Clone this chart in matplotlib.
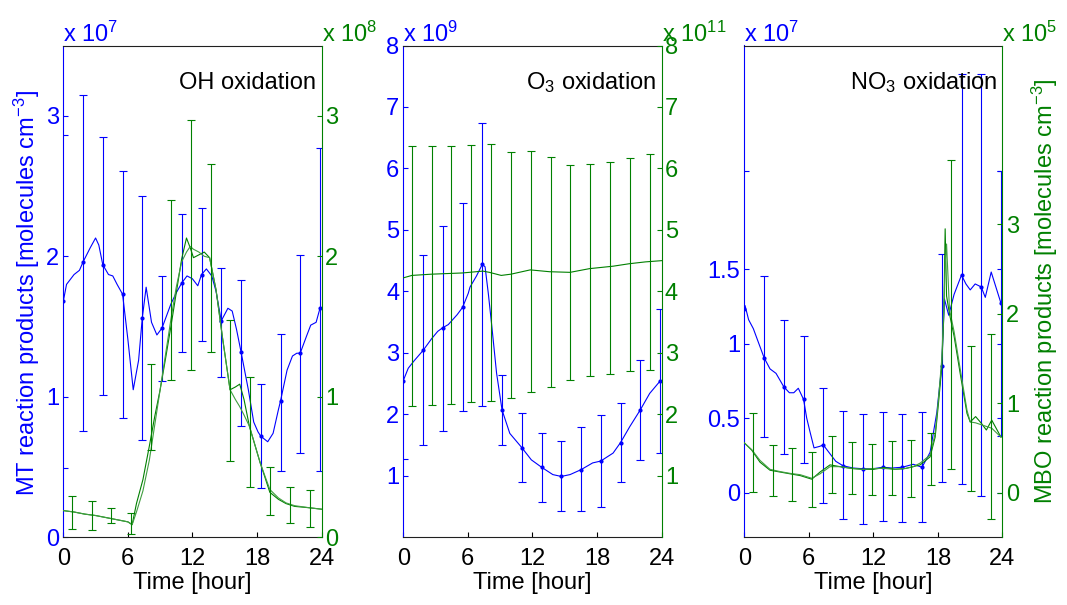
import numpy as np
import matplotlib
matplotlib.use('Agg')
import matplotlib.pyplot as plt

plt.rcParams['font.family'] = ['Liberation Sans', 'DejaVu Sans']
plt.rcParams['mathtext.default'] = 'regular'
plt.rcParams['font.size'] = 17

blue = (0, 0, 1)
green = (0, 0.5, 0)

# hours of the averaged MT points and of the MBO error bars
mark_hours = [0, 1.84, 3.67, 5.51, 7.34, 9.18, 11.01, 12.85, 14.68, 16.52, 18.35, 20.19, 22.02, 23.86]
bar_hours = [0.78, 2.63, 4.47, 6.32, 8.16, 10.0, 11.85, 13.7, 15.54, 17.39, 19.23, 21.08, 22.92]

# ---------------- OH oxidation (MT x1e7, MBO x1e8)
oh_mt_t = [0, 0.3, 0.5, 1, 1.5, 1.84, 2.5, 3, 3.3, 3.67, 4.2, 4.6, 5, 5.51, 6, 6.5, 7, 7.34, 7.7,
           8.2, 8.7, 9.18, 10, 10.5, 11.01, 11.5, 12, 12.5, 12.85, 13.3, 13.8, 14.2, 14.68, 15.3,
           15.7, 16.1, 16.52, 17.2, 17.7, 18.1, 18.35, 19, 19.5, 20, 20.19, 20.8, 21.3, 21.7,
           22.02, 22.6, 23, 23.5, 23.86]
oh_mt = [1.68, 1.80, 1.82, 1.87, 1.90, 1.96, 2.06, 2.13, 2.08, 1.94, 1.87, 1.86, 1.80, 1.73, 1.41,
         1.05, 1.26, 1.56, 1.78, 1.53, 1.44, 1.49, 1.66, 1.74, 1.81, 1.86, 1.84, 1.79, 1.87, 1.91,
         1.86, 1.75, 1.54, 1.63, 1.61, 1.48, 1.32, 1.05, 0.82, 0.75, 0.72, 0.68, 0.74, 0.91, 0.97,
         1.19, 1.29, 1.31, 1.31, 1.43, 1.51, 1.53, 1.63]
oh_mt_marks = [1.68, 1.96, 1.94, 1.73, 1.56, 1.49, 1.81, 1.87, 1.54, 1.32, 0.72, 0.97, 1.31, 1.63]
oh_mt_lo = [None, 0.76, 1.01, 0.85, 0.69, 1.11, 1.32, 1.40, 1.14, 0.79, 0.35, 0.47, 0.60, 0.47]
oh_mt_hi = [None, 3.15, 2.85, 2.61, 2.43, 1.86, 2.30, 2.34, 1.92, 1.83, 1.09, 1.45, 2.01, 2.77]
oh_mbo_t = [0, 1, 2, 3, 4, 5, 6, 6.4, 6.8, 7.4, 8, 8.5, 9, 9.5, 10, 10.5, 11, 11.45, 11.8, 12.1,
            12.6, 13.1, 13.6, 14.2, 14.8, 15.5, 16, 16.4, 16.8, 17.3, 18.3, 19.2, 20, 20.7, 21.5,
            22.9, 24]
oh_mbo_a = [0.19, 0.18, 0.165, 0.155, 0.14, 0.125, 0.11, 0.09, 0.24, 0.41, 0.65, 0.86, 1.05, 1.27,
            1.50, 1.74, 1.98, 2.13, 2.06, 1.99, 2.01, 2.03, 1.99, 1.76, 1.42, 1.05, 1.07, 1.09,
            0.98, 0.79, 0.53, 0.32, 0.27, 0.24, 0.22, 0.21, 0.20]
oh_mbo_b = [0.19, 0.18, 0.165, 0.155, 0.14, 0.125, 0.11, 0.09, 0.18, 0.33, 0.55, 0.80, 1.05, 1.30,
            1.55, 1.78, 1.96, 2.03, 2.07, 2.05, 2.03, 2.00, 1.99, 1.76, 1.42, 1.05, 0.98, 0.93,
            0.87, 0.79, 0.53, 0.34, 0.28, 0.245, 0.225, 0.21, 0.20]
oh_mbo_lo = [0.06, 0.055, 0.105, 0.02, 0.62, 1.12, 1.19, 1.32, 0.54, 0.36, 0.16, 0.105, 0.07]
oh_mbo_hi = [0.295, 0.26, 0.21, 0.17, 1.23, 2.40, 2.97, 2.66, 1.55, 1.14, 0.50, 0.36, 0.34]

# ---------------- O3 oxidation (MT x1e9, MBO x1e11)
o3_mt_t = [0, 0.46, 1.0, 1.84, 2.63, 3.2, 3.67, 4.18, 5.0, 5.51, 6.04, 6.2, 6.8, 7.34, 7.6, 7.9,
           8.2, 8.67, 9.18, 9.9, 11.01, 11.9, 12.85, 13.9, 14.68, 15.5, 16.52, 17.6, 18.35, 19.5,
           20.19, 21.05, 22.02, 22.9, 23.86]
o3_mt = [2.55, 2.75, 2.87, 3.04, 3.23, 3.35, 3.41, 3.46, 3.62, 3.74, 3.97, 4.07, 4.25, 4.44, 4.40,
         3.97, 3.48, 2.67, 2.07, 1.69, 1.46, 1.26, 1.14, 1.02, 0.99, 1.02, 1.10, 1.21, 1.24, 1.37,
         1.54, 1.80, 2.07, 2.34, 2.54]
o3_mt_marks = [2.55, 3.04, 3.41, 3.74, 4.44, 2.07, 1.46, 1.14, 0.99, 1.10, 1.24, 1.54, 2.07, 2.54]
o3_mt_lo = [None, 1.50, 1.73, 2.06, 2.13, 1.50, 0.90, 0.57, 0.42, 0.42, 0.50, 0.90, 1.25, 1.37]
o3_mt_hi = [None, 4.60, 5.07, 5.43, 6.74, 2.64, 2.02, 1.69, 1.57, 1.79, 1.99, 2.19, 2.88, 3.71]
o3_mbo_t = [0, 0.8, 2.6, 5.5, 7.4, 8.0, 9.1, 10.0, 11.8, 13.6, 15.5, 17.3, 19.5, 21.0, 22.5, 24]
o3_mbo = [4.22, 4.26, 4.28, 4.30, 4.33, 4.31, 4.26, 4.28, 4.35, 4.32, 4.31, 4.37, 4.41, 4.45,
          4.48, 4.50]
o3_mbo_lo = [2.13, 2.16, 2.17, 2.20, 2.22, 2.27, 2.37, 2.44, 2.56, 2.63, 2.66, 2.70, 2.72]
o3_mbo_hi = [6.36, 6.36, 6.36, 6.38, 6.39, 6.27, 6.28, 6.19, 6.06, 6.07, 6.10, 6.17, 6.23]

# ---------------- NO3 oxidation (MT x1e7, MBO x1e5)
no3_mt_t = [0, 0.07, 0.4, 0.84, 1.3, 1.84, 2.39, 2.95, 3.67, 4.19, 4.6, 5.02, 5.51, 5.8, 6.1,
            6.48, 7.0, 7.34, 7.97, 8.5, 9.18, 10.1, 11.01, 12.0, 12.85, 13.7, 14.68, 15.7, 16.52,
            17.27, 17.9, 18.35, 18.6, 19.0, 19.5, 20.19, 20.6, 21.0, 21.46, 22.02, 22.4, 22.95,
            23.86]
no3_mt = [1.23, 1.255, 1.16, 1.10, 1.01, 0.905, 0.83, 0.80, 0.71, 0.67, 0.67, 0.70, 0.625, 0.50,
          0.41, 0.30, 0.31, 0.32, 0.26, 0.21, 0.18, 0.165, 0.16, 0.16, 0.17, 0.165, 0.17, 0.19,
          0.17, 0.27, 0.54, 0.85, 1.30, 1.19, 1.33, 1.46, 1.40, 1.36, 1.40, 1.38, 1.31, 1.48, 1.27]
no3_mt_marks = [1.23, 0.905, 0.71, 0.625, 0.32, 0.18, 0.16, 0.17, 0.17, 0.17, 0.85, 1.46, 1.38, 1.27]
no3_mt_lo = [None, 0.37, 0.26, 0.20, -0.07, -0.18, -0.21, -0.19, -0.20, -0.20, 0.07, 0.06, -0.02, 0.38]
no3_mt_hi = [None, 1.45, 1.155, 1.05, 0.70, 0.55, 0.53, 0.54, 0.53, 0.54, 1.60, 2.81, 2.81, 2.16]
no3_mbo_t = [0, 0.69, 1.46, 2.39, 3.32, 4.25, 5.2, 6.27, 7.04, 7.97, 8.9, 10, 11, 12, 13, 14, 15,
             15.7, 16.35, 17.27, 17.74, 18.05, 18.36, 18.55, 18.67, 18.8, 19.07, 19.5, 20.07,
             20.7, 21.0, 21.5, 22.0, 22.5, 23.0, 23.86]
no3_mbo_a = [0.556, 0.475, 0.34, 0.25, 0.23, 0.21, 0.19, 0.15, 0.23, 0.31, 0.29, 0.27, 0.26, 0.26,
             0.28, 0.26, 0.27, 0.29, 0.31, 0.40, 0.62, 1.00, 1.41, 2.0, 2.95, 2.2, 2.0, 1.75,
             1.33, 0.885, 0.79, 0.85, 0.78, 0.70, 0.81, 0.62]
no3_mbo_b = [0.556, 0.48, 0.36, 0.26, 0.235, 0.215, 0.20, 0.16, 0.21, 0.29, 0.29, 0.27, 0.26,
             0.27, 0.27, 0.26, 0.27, 0.29, 0.33, 0.42, 0.66, 1.05, 1.50, 2.1, 2.55, 2.78, 2.05,
             1.80, 1.38, 0.92, 0.79, 0.78, 0.76, 0.74, 0.72, 0.62]
no3_mbo_lo = [0.01, -0.035, -0.09, -0.16, 0.0, -0.02, -0.03, -0.03, -0.05, 0.08, 0.26, 0.017, -0.29]
no3_mbo_hi = [0.885, 0.53, 0.50, 0.45, 0.635, 0.57, 0.54, 0.58, 0.59, 0.67, 3.72, 1.64, 1.77]

W, H = 1067.0, 605.0
fig = plt.figure(figsize=(W / 100, H / 100), dpi=100)


def panel(left_px, title, exps, mt_lim, mt_ticks, mt_minor, mbo_lim, mbo_ticks,
          mt_t, mt, marks, lo, hi, mbo_t, mbo_lines, blo, bhi, mirror=False):
	ax = fig.add_axes([left_px / W, 1 - 537.3 / H, 258.2 / W, (537.3 - 45.5) / H])
	ax2 = ax.twinx()

	# MT (left, blue)
	ax.plot(mt_t, mt, color=blue, lw=0.8)
	ax.plot(mark_hours, marks, '.', color=blue, ms=4)
	xs, ys, ye = [], [], [[], []]
	for h, m, l, u in zip(mark_hours, marks, lo, hi):
		if l is None:
			continue
		xs.append(h); ys.append(m)
		ye[0].append(max(m - l, 0)); ye[1].append(max(u - m, 0))
	ax.errorbar(xs, ys, yerr=ye, fmt='none', ecolor=blue, elinewidth=0.8, capsize=3, capthick=0.8)

	# MBO (right, green)
	for line, c in zip(mbo_lines, [green, (0.25, 0.62, 0.25)]):
		ax2.plot(mbo_t, line, color=c, lw=0.8)
	blo = np.array(blo); bhi = np.array(bhi)
	ax2.errorbar(bar_hours, (blo + bhi) / 2, yerr=(bhi - blo) / 2, fmt='none', ecolor=green,
	             elinewidth=0.8, capsize=3, capthick=0.8)

	ax.set_xlim(0, 24)
	ax.set_xticks([0, 6, 12, 18, 24])
	ax.set_ylim(*mt_lim)
	ax.set_yticks(mt_ticks)
	ax.set_yticklabels(['%g' % v for v in mt_ticks])
	ax.set_yticks(mt_minor, minor=True)
	ax2.set_ylim(*mbo_lim)
	ax2.set_yticks(mbo_ticks)
	ax2.set_yticklabels(['%g' % v for v in mbo_ticks])

	ax.tick_params(axis='x', direction='in', length=3.5, width=0.8, pad=8, colors='k')
	ax.tick_params(axis='y', which='both', direction='in', length=3.5, width=0.8, pad=3,
	               colors=blue, right=mirror)
	ax2.tick_params(axis='y', direction='in', length=3.5, width=0.8, pad=2.5, colors=green)

	for s in ['top', 'bottom']:
		ax.spines[s].set_color('#202020')
		ax.spines[s].set_linewidth(0.8)
		ax2.spines[s].set_visible(False)
	ax.spines['left'].set_color(blue)
	ax.spines['left'].set_linewidth(0.8)
	ax.spines['right'].set_visible(False)
	ax2.spines['left'].set_visible(False)
	ax2.spines['right'].set_color(green)
	ax2.spines['right'].set_linewidth(0.8)

	ax.set_xlabel('Time [hour]', labelpad=1.5)
	ax.text(0, 1.008, r'x 10$^{%d}$' % exps[0], transform=ax.transAxes, color=blue,
	        ha='left', va='baseline')
	ax.text(1, 1.008, r'x 10$^{%d}$' % exps[1], transform=ax.transAxes, color=green,
	        ha='left', va='baseline')
	ax2.text(0.978, 0.912, title, transform=ax.transAxes, ha='right', va='baseline', color='k')
	return ax, ax2


panel(63.3, 'OH oxidation', (7, 8), (0, 3.5), [0, 1, 2, 3], [0.49, 2.86], (0, 3.5), [0, 1, 2, 3],
      oh_mt_t, oh_mt, oh_mt_marks, oh_mt_lo, oh_mt_hi,
      oh_mbo_t, [oh_mbo_a, oh_mbo_b], oh_mbo_lo, oh_mbo_hi)
panel(403.3, r'O$_3$ oxidation', (9, 11), (0, 8), [1, 2, 3, 4, 5, 6, 7, 8], [1.27], (0, 8),
      [1, 2, 3, 4, 5, 6, 7, 8],
      o3_mt_t, o3_mt, o3_mt_marks, o3_mt_lo, o3_mt_hi,
      o3_mbo_t, [o3_mbo], o3_mbo_lo, o3_mbo_hi)
panel(744.3, r'NO$_3$ oxidation', (7, 5), (-0.3, 3.0), [0, 0.5, 1, 1.5], [2.16], (-0.5, 5.0),
      [0, 1, 2, 3],
      no3_mt_t, no3_mt, no3_mt_marks, no3_mt_lo, no3_mt_hi,
      no3_mbo_t, [no3_mbo_a, no3_mbo_b], no3_mbo_lo, no3_mbo_hi, mirror=True)

fig.text(26.5 / W, 1 - 293 / H, r'MT reaction products [molecules cm$^{-3}$]', color=blue,
         rotation=90, ha='center', va='center')
fig.text(1044.5 / W, 1 - 291 / H, r'MBO reaction products [molecules cm$^{-3}$]', color=green,
         rotation=90, ha='center', va='center')

fig.savefig('out.png', dpi=100)
